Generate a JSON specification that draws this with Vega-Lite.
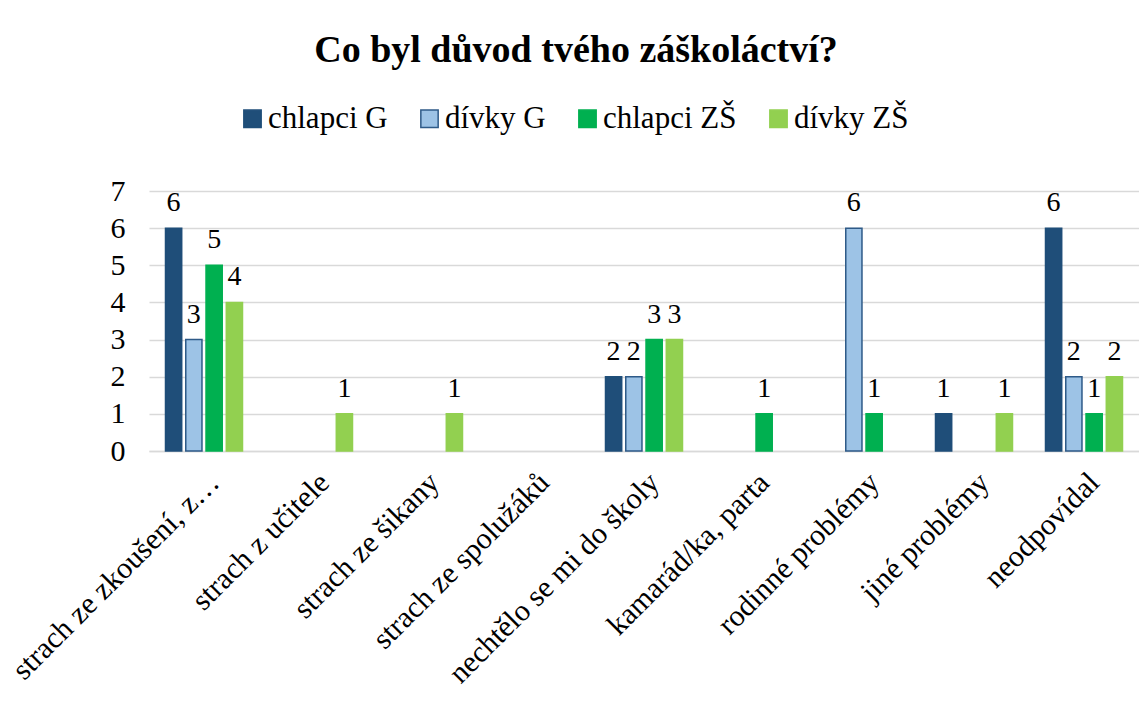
{
  "$schema": "https://vega.github.io/schema/vega-lite/v6.json",
  "autosize": {"type": "none"},
  "width": 990,
  "height": 260,
  "padding": {"left": 149, "top": 191, "right": 0, "bottom": 266},
  "background": "white",
  "title": {
    "text": "Co byl důvod tvého záškoláctví?",
    "font": "Times New Roman",
    "fontSize": 38,
    "fontWeight": "bold",
    "color": "#000000",
    "anchor": "middle",
    "offset": 33,
    "dx": -68
  },
  "config": {
    "font": "Times New Roman",
    "view": {"stroke": null}
  },
  "data": {
    "values": [
      {"kategorie": "strach ze zkoušení, z…", "skupina": "chlapci G", "pocet": 6},
      {"kategorie": "strach ze zkoušení, z…", "skupina": "dívky G", "pocet": 3},
      {"kategorie": "strach ze zkoušení, z…", "skupina": "chlapci ZŠ", "pocet": 5},
      {"kategorie": "strach ze zkoušení, z…", "skupina": "dívky ZŠ", "pocet": 4},
      {"kategorie": "strach z učitele", "skupina": "chlapci G", "pocet": 0},
      {"kategorie": "strach z učitele", "skupina": "dívky G", "pocet": 0},
      {"kategorie": "strach z učitele", "skupina": "chlapci ZŠ", "pocet": 0},
      {"kategorie": "strach z učitele", "skupina": "dívky ZŠ", "pocet": 1},
      {"kategorie": "strach ze šikany", "skupina": "chlapci G", "pocet": 0},
      {"kategorie": "strach ze šikany", "skupina": "dívky G", "pocet": 0},
      {"kategorie": "strach ze šikany", "skupina": "chlapci ZŠ", "pocet": 0},
      {"kategorie": "strach ze šikany", "skupina": "dívky ZŠ", "pocet": 1},
      {"kategorie": "strach ze spolužáků", "skupina": "chlapci G", "pocet": 0},
      {"kategorie": "strach ze spolužáků", "skupina": "dívky G", "pocet": 0},
      {"kategorie": "strach ze spolužáků", "skupina": "chlapci ZŠ", "pocet": 0},
      {"kategorie": "strach ze spolužáků", "skupina": "dívky ZŠ", "pocet": 0},
      {"kategorie": "nechtělo se mi do školy", "skupina": "chlapci G", "pocet": 2},
      {"kategorie": "nechtělo se mi do školy", "skupina": "dívky G", "pocet": 2},
      {"kategorie": "nechtělo se mi do školy", "skupina": "chlapci ZŠ", "pocet": 3},
      {"kategorie": "nechtělo se mi do školy", "skupina": "dívky ZŠ", "pocet": 3},
      {"kategorie": "kamarád/ka, parta", "skupina": "chlapci G", "pocet": 0},
      {"kategorie": "kamarád/ka, parta", "skupina": "dívky G", "pocet": 0},
      {"kategorie": "kamarád/ka, parta", "skupina": "chlapci ZŠ", "pocet": 1},
      {"kategorie": "kamarád/ka, parta", "skupina": "dívky ZŠ", "pocet": 0},
      {"kategorie": "rodinné problémy", "skupina": "chlapci G", "pocet": 0},
      {"kategorie": "rodinné problémy", "skupina": "dívky G", "pocet": 6},
      {"kategorie": "rodinné problémy", "skupina": "chlapci ZŠ", "pocet": 1},
      {"kategorie": "rodinné problémy", "skupina": "dívky ZŠ", "pocet": 0},
      {"kategorie": "jiné problémy", "skupina": "chlapci G", "pocet": 1},
      {"kategorie": "jiné problémy", "skupina": "dívky G", "pocet": 0},
      {"kategorie": "jiné problémy", "skupina": "chlapci ZŠ", "pocet": 0},
      {"kategorie": "jiné problémy", "skupina": "dívky ZŠ", "pocet": 1},
      {"kategorie": "neodpovídal", "skupina": "chlapci G", "pocet": 6},
      {"kategorie": "neodpovídal", "skupina": "dívky G", "pocet": 2},
      {"kategorie": "neodpovídal", "skupina": "chlapci ZŠ", "pocet": 1},
      {"kategorie": "neodpovídal", "skupina": "dívky ZŠ", "pocet": 2}
    ]
  },
  "encoding": {
    "x": {
      "field": "kategorie",
      "type": "nominal",
      "sort": null,
      "scale": {
        "domain": ["strach ze zkoušení, z…", "strach z učitele", "strach ze šikany", "strach ze spolužáků", "nechtělo se mi do školy", "kamarád/ka, parta", "rodinné problémy", "jiné problémy", "neodpovídal"],
        "paddingInner": 0.3,
        "paddingOuter": 0.15
      },
      "axis": {
        "title": null,
        "labelAngle": -45,
        "labelAlign": "right",
        "labelBaseline": "top",
        "labelPadding": 16,
        "labelFont": "Times New Roman",
        "labelFontSize": 30,
        "labelColor": "#000000",
        "labelLimit": 400,
        "labelOverlap": false,
        "ticks": false,
        "domainColor": "#d9d9d9",
        "domainWidth": 1.5,
        "grid": false
      }
    },
    "xOffset": {
      "field": "skupina",
      "type": "nominal",
      "sort": ["chlapci G", "dívky G", "chlapci ZŠ", "dívky ZŠ"],
      "scale": {"domain": ["chlapci G", "dívky G", "chlapci ZŠ", "dívky ZŠ"], "paddingInner": 0.2, "paddingOuter": 0}
    },
    "y": {
      "field": "pocet",
      "type": "quantitative",
      "scale": {"domain": [0, 7], "nice": false},
      "axis": {
        "title": null,
        "values": [0, 1, 2, 3, 4, 5, 6, 7],
        "format": "d",
        "labelFont": "Times New Roman",
        "labelFontSize": 30,
        "labelColor": "#000000",
        "labelPadding": 24,
        "ticks": false,
        "domain": false,
        "grid": true,
        "gridColor": "#d9d9d9",
        "gridWidth": 1.5
      }
    }
  },
  "layer": [
    {
      "transform": [{"filter": "datum.pocet > 0"}],
      "mark": {"type": "bar", "strokeWidth": 1.5},
      "encoding": {
        "color": {
          "field": "skupina",
          "type": "nominal",
          "sort": ["chlapci G", "dívky G", "chlapci ZŠ", "dívky ZŠ"],
          "scale": {
            "domain": ["chlapci G", "dívky G", "chlapci ZŠ", "dívky ZŠ"],
            "range": ["#1F4E79", "#9DC3E6", "#00B050", "#92D050"]
          },
          "legend": {
            "title": null,
            "orient": "none",
            "direction": "horizontal",
            "legendX": 88,
            "legendY": -88,
            "symbolType": "square",
            "symbolSize": 300,
            "symbolStrokeWidth": 1.5,
            "labelFont": "Times New Roman",
            "labelFontSize": 31,
            "labelColor": "#000000",
            "labelOffset": 0,
            "columnPadding": 26,
            "labelLimit": 300
          }
        },
        "stroke": {
          "field": "skupina",
          "type": "nominal",
          "sort": ["chlapci G", "dívky G", "chlapci ZŠ", "dívky ZŠ"],
          "scale": {
            "domain": ["chlapci G", "dívky G", "chlapci ZŠ", "dívky ZŠ"],
            "range": ["#1F4E79", "#2E5A88", "#00B050", "#92D050"]
          },
          "legend": null
        }
      }
    },
    {
      "transform": [{"filter": "datum.pocet > 0"}],
      "mark": {
        "type": "text",
        "baseline": "alphabetic",
        "dy": -17,
        "font": "Times New Roman",
        "fontSize": 28,
        "color": "#000000"
      },
      "encoding": {
        "text": {"field": "pocet", "type": "quantitative"}
      }
    }
  ]
}
